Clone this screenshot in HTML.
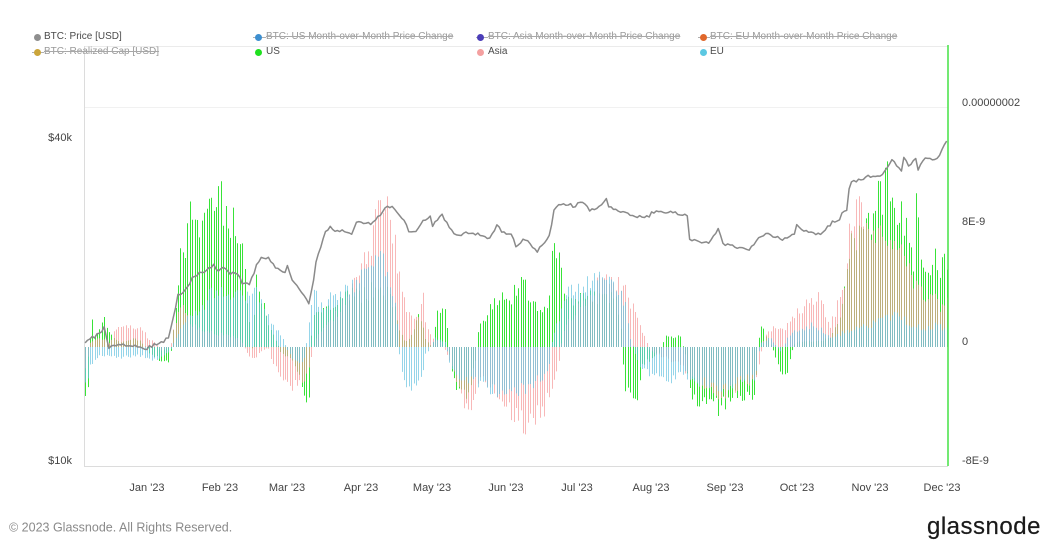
<!DOCTYPE html>
<html>
<head>
<meta charset="utf-8">
<style>
html,body{margin:0;padding:0;background:#fff;}
body{width:1051px;height:550px;overflow:hidden;position:relative;font-family:"Liberation Sans",sans-serif;}
svg{display:block;position:absolute;left:0;top:0;}
.dot{position:absolute;width:7px;height:7px;border-radius:50%;}
.lt{position:absolute;font-size:10px;line-height:12px;white-space:nowrap;color:#4a4a4a;}
.st{color:#9a9a9a;text-decoration:line-through;text-decoration-color:#a8a8a8;}
.sl{position:absolute;height:1px;background:#b0b0b0;}
</style>
</head>
<body>
<svg width="1051" height="550" viewBox="0 0 1051 550" xmlns="http://www.w3.org/2000/svg" font-family="Liberation Sans, sans-serif">
  <rect width="1051" height="550" fill="#fff"/>
  <line x1="84" y1="46.5" x2="948" y2="46.5" stroke="#ebebeb" stroke-width="1"/>
  <line x1="84" y1="107.5" x2="948" y2="107.5" stroke="#f1f1f1" stroke-width="1"/>
  <line x1="84.5" y1="46" x2="84.5" y2="466" stroke="#dcdcdc" stroke-width="1"/>
  <line x1="84" y1="466.5" x2="948" y2="466.5" stroke="#dcdcdc" stroke-width="1"/>
  <g id="bars"></g>
  <polyline id="price" fill="none" stroke="#8a8a8a" stroke-width="1.5" stroke-linejoin="round" points=""/>
  <line x1="948" y1="45" x2="948" y2="466" stroke="#45e245" stroke-width="1.5"/>
  <g font-size="11" fill="#444" text-anchor="end">
    <text x="72" y="141">$40k</text>
    <text x="72" y="464">$10k</text>
  </g>
  <g font-size="11" fill="#444">
    <text x="962" y="106">0.00000002</text>
    <text x="962" y="225">8E-9</text>
    <text x="962" y="345">0</text>
    <text x="962" y="464">-8E-9</text>
  </g>
  <g font-size="11" fill="#444" text-anchor="middle">
    <text x="147" y="491">Jan '23</text>
    <text x="220" y="491">Feb '23</text>
    <text x="287" y="491">Mar '23</text>
    <text x="361" y="491">Apr '23</text>
    <text x="432" y="491">May '23</text>
    <text x="506" y="491">Jun '23</text>
    <text x="577" y="491">Jul '23</text>
    <text x="651" y="491">Aug '23</text>
    <text x="725" y="491">Sep '23</text>
    <text x="797" y="491">Oct '23</text>
    <text x="870" y="491">Nov '23</text>
    <text x="942" y="491">Dec '23</text>
  </g>
  <text x="9" y="531.5" font-size="12.5" fill="#8a8a8a">© 2023 Glassnode. All Rights Reserved.</text>
  <text x="927" y="534" font-size="24" fill="#1a1a1a" letter-spacing="0.5" stroke="#1a1a1a" stroke-width="0.2">glassnode</text>
</svg>

<div class="dot" style="left:33.5px;top:33.5px;background:#8e8e8e"></div>
<div class="lt" style="left:44px;top:31px">BTC: Price [USD]</div>

<div class="sl" style="left:253px;top:37px;width:13px"></div>
<div class="dot" style="left:254.5px;top:33.5px;background:#3d8fd0"></div>
<div class="lt st" style="left:266px;top:31px">BTC: US Month-over-Month Price Change</div>

<div class="sl" style="left:476px;top:37px;width:12px"></div>
<div class="dot" style="left:476.5px;top:33.5px;background:#4b3db8"></div>
<div class="lt st" style="left:488px;top:31px">BTC: Asia Month-over-Month Price Change</div>

<div class="sl" style="left:698px;top:37px;width:12px"></div>
<div class="dot" style="left:699.5px;top:33.5px;background:#e0672b"></div>
<div class="lt st" style="left:710px;top:31px">BTC: EU Month-over-Month Price Change</div>

<div class="sl" style="left:32px;top:52px;width:12px"></div>
<div class="dot" style="left:33.5px;top:48.5px;background:#cba53a"></div>
<div class="lt st" style="left:44px;top:46px">BTC: Realized Cap [USD]</div>

<div class="dot" style="left:254.5px;top:48.5px;background:#1fe01f"></div>
<div class="lt" style="left:266px;top:46px">US</div>

<div class="dot" style="left:476.5px;top:48.5px;background:#f4a0a0"></div>
<div class="lt" style="left:488px;top:46px">Asia</div>

<div class="dot" style="left:699.5px;top:48.5px;background:#5cc8e2"></div>
<div class="lt" style="left:710px;top:46px">EU</div>

<script>
(function(){
  var seed = 987654;
  function rnd(){ seed = (seed * 16807) % 2147483647; return (seed - 1) / 2147483646; }
  function interp(kp, x){
    if (x <= kp[0][0]) return kp[0][1];
    for (var i = 1; i < kp.length; i++){
      if (x <= kp[i][0]){
        var x0 = kp[i-1][0], y0 = kp[i-1][1], x1 = kp[i][0], y1 = kp[i][1];
        return y0 + (y1 - y0) * (x - x0) / (x1 - x0);
      }
    }
    return kp[kp.length-1][1];
  }
  function X(d){ return 147 + (d - 27) * 2.38; }
  var Y0 = 347;

  var US = [[84,-58],[88,-40],[91,40],[95,10],[100,20],[103,35],[110,15],[120,5],[130,10],[140,8],[150,-8],[160,-15],[168,-18],[172,0],[176,60],[180,100],[185,105],[190,150],[195,145],[205,150],[215,160],[221,175],[228,150],[235,145],[240,140],[245,80],[248,45],[252,-5],[256,75],[262,55],[268,25],[275,10],[280,-5],[290,-15],[300,-30],[305,-60],[309,-55],[312,40],[320,45],[330,50],[340,55],[350,60],[360,60],[370,65],[380,70],[390,60],[400,20],[405,5],[412,15],[418,45],[425,10],[432,0],[437,40],[445,45],[448,5],[452,-35],[458,-50],[465,-55],[470,-45],[475,-20],[478,20],[483,30],[490,45],[495,55],[503,64],[510,55],[517,72],[525,70],[530,55],[540,45],[547,40],[552,105],[558,110],[563,70],[570,50],[580,55],[600,60],[615,55],[620,30],[625,-50],[630,-60],[637,-60],[642,-20],[650,-15],[660,-5],[665,12],[680,12],[685,-10],[690,-60],[700,-65],[710,-60],[720,-72],[730,-60],[745,-60],[755,-55],[758,0],[760,30],[765,15],[770,5],[780,-25],[786,-38],[790,-10],[795,5],[820,8],[830,10],[835,25],[840,35],[845,80],[848,120],[855,110],[865,160],[870,150],[880,175],[885,185],[890,190],[895,170],[900,150],[905,140],[910,110],[913,90],[916,178],[919,130],[922,80],[926,90],[930,95],[935,105],[940,90],[946,95]];

  var AS = [[84,-30],[90,5],[100,10],[110,5],[115,20],[125,25],[135,20],[140,25],[148,10],[155,5],[160,-5],[170,0],[175,30],[180,45],[185,40],[190,30],[200,20],[220,15],[240,10],[248,-10],[255,-12],[262,-5],[268,0],[272,-20],[280,-35],[290,-45],[300,-45],[305,-40],[310,-20],[315,10],[330,30],[350,60],[365,100],[372,130],[378,150],[383,157],[390,155],[395,110],[400,80],[405,50],[410,35],[415,30],[420,40],[422,68],[425,30],[432,10],[440,5],[448,-10],[455,-35],[462,-65],[468,-70],[475,-55],[480,-35],[488,-45],[495,-50],[505,-65],[515,-80],[527,-90],[535,-80],[545,-70],[552,-40],[558,-20],[563,20],[575,40],[590,60],[600,75],[610,82],[620,75],[625,65],[630,50],[640,25],[645,10],[650,-5],[660,-10],[680,-20],[690,-35],[700,-50],[715,-55],[730,-50],[745,-40],[755,-40],[760,-10],[765,15],[775,25],[785,20],[790,35],[800,45],[810,50],[818,57],[825,40],[830,20],[838,55],[845,65],[850,140],[855,157],[860,150],[868,140],[875,130],[885,120],[895,110],[905,100],[915,75],[925,55],[935,55],[940,45],[946,55]];

  var EU = [[84,-50],[90,-20],[100,-10],[120,-12],[140,-10],[155,-15],[170,-5],[175,10],[185,30],[200,45],[210,60],[220,65],[235,60],[245,55],[250,60],[256,70],[262,50],[270,30],[280,15],[290,-10],[300,-20],[305,-10],[310,40],[312,70],[320,50],[330,55],[340,65],[350,70],[360,80],[370,87],[380,100],[385,90],[390,70],[395,50],[400,-20],[405,-45],[412,-48],[420,-45],[425,-10],[435,10],[445,5],[450,-20],[460,-40],[475,-40],[485,-45],[495,-50],[510,-55],[520,-50],[530,-45],[540,-35],[548,-30],[552,10],[558,30],[563,60],[575,72],[590,75],[605,78],[615,72],[625,50],[630,10],[640,-25],[650,-30],[660,-35],[670,-40],[680,-30],[690,-35],[700,-40],[720,-45],[740,-40],[755,-35],[760,5],[770,10],[780,-5],[790,15],[800,20],[810,25],[820,22],[830,10],[840,15],[850,20],[860,25],[870,25],[880,30],[890,35],[898,40],[905,30],[915,25],[925,20],[935,25],[946,20]];

  var series = [[US,'#22e022',0.9],[AS,'#f59a9a',0.7],[EU,'#68c3e0',0.7]];
  var html = '';
  for (var s = 0; s < series.length; s++){
    var kp = series[s][0], p = '';
    for (var d = 1; d <= 363; d++){
      var xr = X(d);
      var x = Math.round(xr) + 0.5;
      var h = interp(kp, xr) * (0.72 + 0.28 * rnd());
      p += 'M' + x.toFixed(1) + ' ' + Y0 + 'V' + (Y0 - h).toFixed(2);
    }
    html += '<path d="' + p + '" stroke="' + series[s][1] + '" stroke-width="1" stroke-opacity="' + series[s][2] + '" fill="none"/>';
  }
  document.getElementById('bars').innerHTML = html;

  var PK = [[0,17.0],[3,17.2],[8,17.8],[9,18.2],[11,16.6],[15,16.9],[20,16.8],[25,16.6],[27,16.6],[34,17.1],[36,17.4],[38,18.8],[40,20.9],[43,21.2],[47,22.7],[51,23.0],[55,23.7],[57,23.1],[59,23.5],[62,22.9],[65,22.9],[67,21.8],[70,21.8],[73,23.6],[75,24.6],[78,24.4],[82,23.2],[85,23.1],[86,23.6],[88,22.3],[94,20.4],[95,20.2],[97,22.1],[98,24.1],[99,24.7],[102,27.4],[104,28.0],[107,27.3],[109,27.5],[113,27.1],[115,28.3],[117,28.5],[121,28.2],[126,29.7],[127,30.3],[130,30.5],[133,29.4],[135,28.8],[137,27.3],[140,27.5],[142,28.4],[146,29.3],[147,28.1],[151,29.5],[154,27.7],[158,26.8],[161,27.2],[166,27.1],[171,26.5],[174,28.0],[177,27.2],[180,27.2],[182,25.7],[186,26.5],[191,25.1],[192,25.6],[196,26.8],[197,28.3],[198,30.0],[200,30.7],[204,30.7],[207,30.5],[210,31.2],[213,30.0],[217,30.4],[220,31.4],[221,30.3],[226,29.9],[231,29.2],[238,29.2],[239,29.7],[246,29.8],[252,29.4],[254,29.2],[255,26.6],[258,26.2],[263,26.0],[267,27.7],[269,26.0],[273,25.8],[280,25.2],[284,26.6],[288,27.2],[294,26.3],[299,27.0],[300,28.0],[304,27.4],[310,26.9],[315,28.5],[318,28.7],[319,29.7],[321,30.0],[322,33.0],[323,34.0],[327,34.1],[330,34.6],[333,34.7],[336,35.0],[339,36.7],[340,37.3],[344,35.5],[345,37.8],[347,36.1],[350,37.4],[351,35.8],[354,37.7],[357,37.2],[360,37.7],[361,38.7],[362,39.5],[363,40.6]];
  var pts = [];
  for (var d2 = 1; d2 <= 363; d2++){
    var pr = interp(PK, d2) * (1 + (rnd() - 0.5) * 0.014);
    var y = 466 - 233 * Math.log(pr / 10);
    pts.push(X(d2).toFixed(2) + ',' + y.toFixed(2));
  }
  document.getElementById('price').setAttribute('points', pts.join(' '));
})();
</script>
</body>
</html>
